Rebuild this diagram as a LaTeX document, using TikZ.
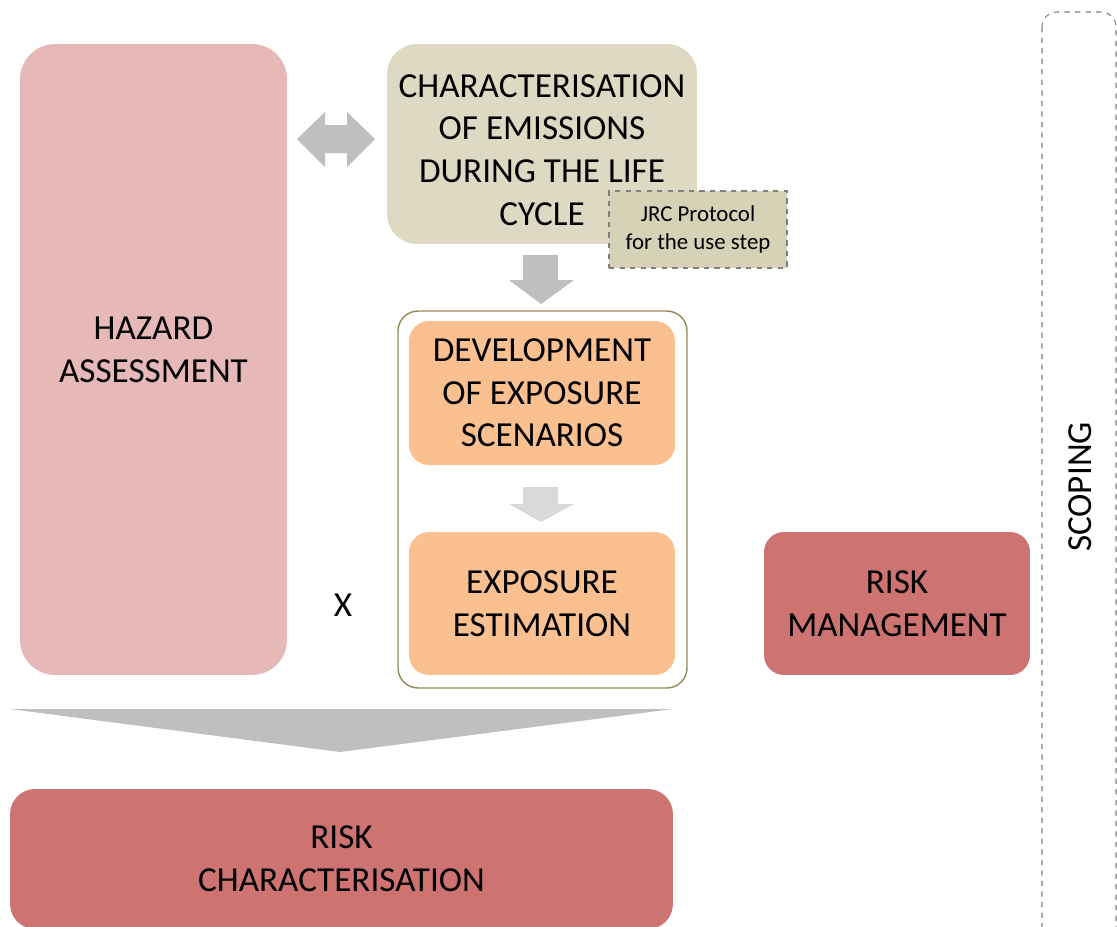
\documentclass[tikz,border=0pt]{standalone}
\usepackage{fontspec}
\setmainfont{Carlito}
\definecolor{hazardpink}{HTML}{E6B9B8}
\definecolor{emisolive}{HTML}{DDD9C3}
\definecolor{jrcolive}{HTML}{D6D2B6}
\definecolor{expoorange}{HTML}{FAC090}
\definecolor{riskred}{HTML}{CD7371}
\definecolor{framebrown}{HTML}{948A54}
\definecolor{arrowgray}{HTML}{BFBFBF}
\definecolor{arrowlight}{HTML}{D9D9D9}

\begin{document}
\begin{tikzpicture}[x=0.02cm, y=-0.02cm,
	bigtext/.style={font=\fontsize{20}{24.3}\selectfont, align=center, inner sep=0pt},
	block/.style={bigtext, rounded corners=0.4cm},
	dashbox/.style={draw=black!50, dashed, line width=0.6pt}]
	\useasboundingbox (0,0) rectangle (1117,927);
	% boxes
	\node[block, fill=hazardpink, rounded corners=0.7cm, minimum width=5.34cm, minimum height=12.62cm] (hazard) at (153.5,359.5) {};
	\node[bigtext] (hazardtext) at (153.5,349.5) {HAZARD\\ASSESSMENT};
	\node[block, fill=emisolive, rounded corners=0.6cm, minimum width=6.2cm, minimum height=4cm] (emission) at (542,144) {};
	\node[bigtext] (emissiontext) at (542,150) {CHARACTERISATION\\OF EMISSIONS\\DURING THE LIFE\\CYCLE};
	\node[dashbox, fill=jrcolive, align=center, inner sep=0pt, minimum width=3.56cm, minimum height=1.54cm,
		font=\fontsize{13}{15.9}\selectfont] (jrc) at (698,229.5) {JRC Protocol\\for the use step};
	\node[draw=framebrown, line width=0.8pt, rounded corners=0.4cm, minimum width=5.78cm, minimum height=7.54cm] (frame) at (542.5,499.5) {};
	\node[block, fill=expoorange, minimum width=5.32cm, minimum height=2.88cm] (scenario) at (542,393) {DEVELOPMENT\\OF EXPOSURE\\SCENARIOS};
	\node[block, fill=expoorange, minimum width=5.32cm, minimum height=2.86cm] (estimation) at (542,603.5) {EXPOSURE\\ESTIMATION};
	\node[block, fill=riskred, minimum width=5.32cm, minimum height=2.86cm] (management) at (897,603.5) {RISK\\MANAGEMENT};
	\node[block, fill=riskred, rounded corners=0.5cm, minimum width=13.26cm, minimum height=2.8cm] (riskchar) at (341.5,859) {RISK\\CHARACTERISATION};
	\node[bigtext] (times) at (343,605) {X};
	% scoping frame
	\draw[dashbox, rounded corners=0.3cm] (1042,12) rectangle (1116,960);
	\node[bigtext, rotate=90] (scoping) at (1080,487) {SCOPING};
	% block arrows
	\fill[arrowgray] (297,139) -- (325,112) -- (325,125) -- (347,125) -- (347,112) -- (375,139)
		-- (347,167) -- (347,153) -- (325,153) -- (325,167) -- cycle;
	\foreach \top/\mid/\tip/\col in {255/280/304/arrowgray, 487/504/522/arrowlight}
	{
		\fill[\col] (523,\top) -- (558,\top) -- (558,\mid) -- (574,\mid) -- (541,\tip)
			-- (509,\mid) -- (523,\mid) -- cycle;
	}
	\fill[arrowgray] (10,709) -- (673,709) -- (340,752) -- cycle;
\end{tikzpicture}
\end{document}
